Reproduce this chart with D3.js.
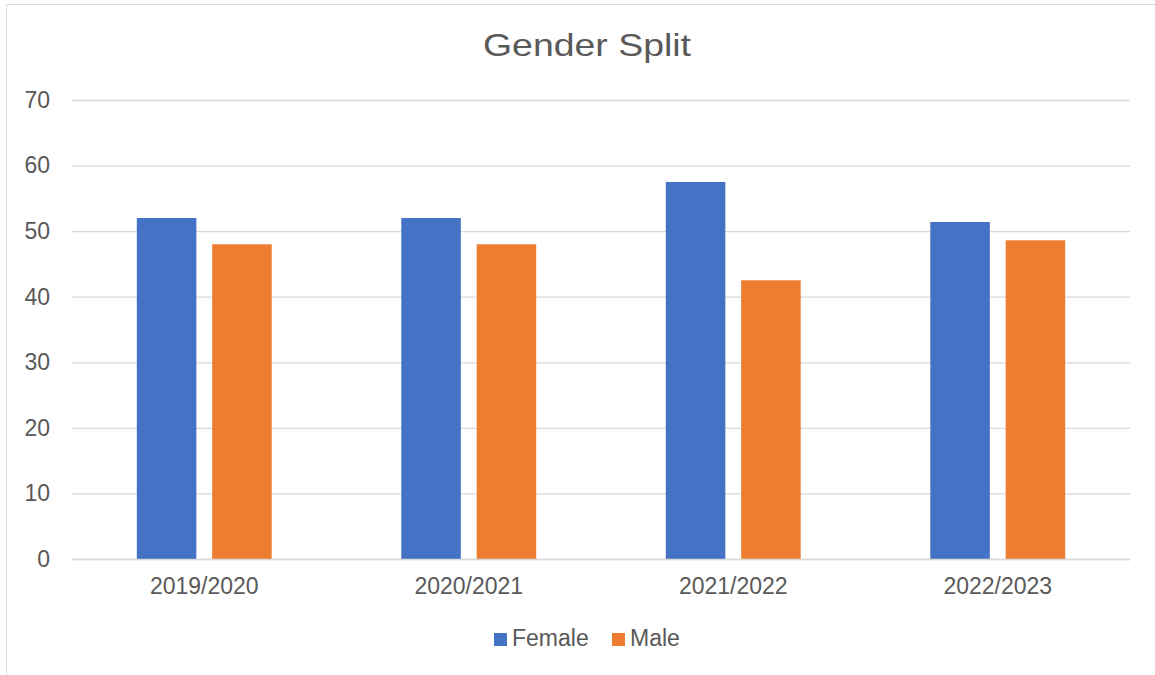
<!DOCTYPE html>
<html>
<head>
<meta charset="utf-8">
<script src="https://cdn.jsdelivr.net/npm/d3@7"></script>
<style>
  html, body { margin: 0; padding: 0; background: #fff; }
  svg { display: block; font-family: "Liberation Sans", Arial, sans-serif; }
</style>
</head>
<body>
<svg id="chart" width="1155" height="675"></svg>
<script>
const categories = ["2019/2020", "2020/2021", "2021/2022", "2022/2023"];
const seriesNames = ["Female", "Male"];
const femaleValues = [52, 52, 57.5, 51.4];
const maleValues = [48, 48, 42.5, 48.6];
const seriesColors = ["#4472C4", "#ED7D31"];
const yTicks = [0, 10, 20, 30, 40, 50, 60, 70];
const chartTitle = "Gender Split";

const seriesValues = [femaleValues, maleValues];
const W = 1155, H = 675;
const margin = { left: 72, right: 25, top: 100, bottom: 116 };
const plotW = W - margin.left - margin.right;
const plotH = H - margin.top - margin.bottom;

const svg = d3.select("#chart");

// outer border
svg.append("rect")
  .attr("x", 6.5).attr("y", 4.5)
  .attr("width", W + 10).attr("height", H + 10)
  .attr("fill", "none").attr("stroke", "#d9d9d9").attr("stroke-width", 1);

const g = svg.append("g").attr("transform", `translate(${margin.left},${margin.top})`);

const x0 = d3.scaleBand().domain(categories).range([0, plotW])
  .paddingInner(0.49).paddingOuter(0.245);
const x1 = d3.scaleBand().domain(seriesNames).range([0, x0.bandwidth()])
  .paddingInner(0.21).paddingOuter(0);
const y = d3.scaleLinear().domain([0, 70]).range([plotH, 0]);

// gridlines
const grid = g.append("g")
  .call(d3.axisLeft(y).tickValues(yTicks).tickSize(-plotW).tickFormat(""));
grid.select(".domain").remove();
grid.selectAll(".tick line").attr("stroke", "#d9d9d9").attr("stroke-width", 1.3);

// y labels
const yAxis = g.append("g")
  .call(d3.axisLeft(y).tickValues(yTicks).tickSize(0).tickPadding(0).tickFormat(d3.format("d")));
yAxis.select(".domain").remove();
yAxis.selectAll("text")
  .attr("x", -22)
  .attr("text-anchor", "end")
  .attr("fill", "#595959")
  .style("font-size", "23px");

// bars
const groups = g.append("g").selectAll("g")
  .data(categories)
  .join("g")
  .attr("transform", d => `translate(${x0(d)},0)`);

groups.selectAll("rect")
  .data((d, i) => seriesNames.map((s, j) => ({ s, v: seriesValues[j][i], c: seriesColors[j] })))
  .join("rect")
  .attr("x", d => x1(d.s))
  .attr("y", d => y(d.v))
  .attr("width", x1.bandwidth())
  .attr("height", d => plotH - y(d.v))
  .attr("fill", d => d.c);

// x axis
const xAxis = g.append("g")
  .attr("transform", `translate(0,${plotH})`)
  .call(d3.axisBottom(x0).tickSize(0).tickPadding(19));
xAxis.select(".domain").attr("stroke", "#d9d9d9").attr("stroke-width", 1.3);
xAxis.selectAll("text").attr("fill", "#595959").style("font-size", "23px");

// title
svg.append("text")
  .attr("x", 587).attr("y", 56)
  .attr("text-anchor", "middle")
  .attr("fill", "#595959")
  .style("font-size", "32px")
  .attr("textLength", 208)
  .attr("lengthAdjust", "spacingAndGlyphs")
  .text(chartTitle);

// legend
const legend = svg.append("g").attr("transform", "translate(494,646)");
const legendX = [0, 118];
seriesNames.forEach((s, i) => {
  const lg = legend.append("g").attr("transform", `translate(${legendX[i]},0)`);
  lg.append("rect").attr("x", 0).attr("y", -13).attr("width", 13).attr("height", 13).attr("fill", seriesColors[i]);
  lg.append("text").attr("x", 18).attr("y", 0).attr("fill", "#595959").style("font-size", "23px").text(s);
});
</script>
</body>
</html>
